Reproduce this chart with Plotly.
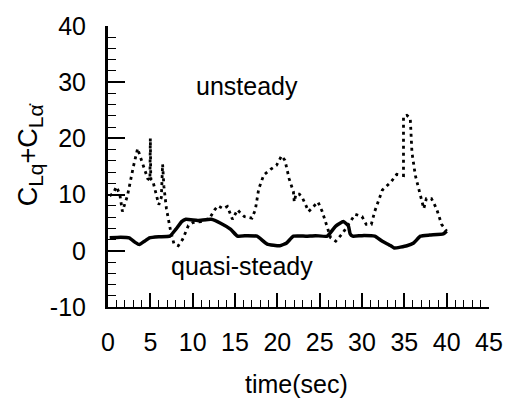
import plotly.graph_objects as go

unsteady_t = [0.2, 0.6, 1.0, 1.4, 1.7, 2.3, 3.0, 3.5, 3.8, 4.3, 4.7, 4.95, 5.0, 5.05, 5.3, 5.7, 6.0, 6.3, 6.45, 6.6, 6.9, 7.4, 7.8, 8.3, 8.8, 9.5, 10.0, 11.0, 12.0, 12.6, 13.0, 13.6, 14.1, 14.7, 15.3, 15.6, 16.1, 17.0, 17.4, 17.8, 18.4, 19.2, 19.9, 20.5, 20.9, 21.4, 21.9, 22.0, 22.2, 22.6, 23.0, 23.7, 24.8, 25.3, 25.9, 26.3, 26.9, 27.7, 28.4, 29.2, 30.0, 30.5, 31.1, 31.5, 32.4, 33.4, 34.1, 34.9, 34.9, 35.3, 35.7, 35.9, 36.3, 36.9, 37.3, 37.6, 38.2, 38.8, 39.4, 40.0]
unsteady_c = [9.8, 10.2, 11.4, 10.0, 7.0, 9.8, 15.0, 18.2, 16.8, 14.5, 12.8, 12.6, 20.0, 12.8, 12.4, 10.0, 8.2, 9.5, 15.4, 11.5, 7.5, 3.5, 1.2, 0.9, 2.0, 4.5, 5.0, 5.2, 5.8, 7.3, 8.0, 7.5, 7.9, 5.6, 7.3, 6.8, 6.1, 5.8, 7.3, 11.0, 13.5, 14.5, 15.2, 16.9, 16.1, 12.8, 10.5, 8.7, 10.1, 10.1, 9.3, 7.0, 8.7, 7.0, 4.4, 2.3, 1.7, 3.1, 4.7, 6.5, 6.1, 4.7, 4.7, 7.0, 10.8, 12.2, 13.6, 13.4, 23.9, 24.1, 23.6, 17.5, 13.4, 9.9, 7.5, 9.3, 9.3, 7.5, 4.7, 3.5]

quasi_t = [0.2, 1.5, 2.5, 3.2, 3.7, 4.3, 4.9, 6.0, 7.3, 8.0, 8.7, 9.2, 10.6, 12.2, 13.3, 14.5, 15.3, 16.5, 17.6, 18.8, 20.3, 21.1, 21.9, 23.4, 24.5, 25.9, 26.9, 27.8, 28.4, 28.6, 28.9, 30.0, 31.5, 32.4, 33.4, 33.8, 35.3, 36.1, 36.9, 38.0, 39.6, 40.0]
quasi_c = [2.3, 2.4, 2.3, 1.5, 1.1, 1.7, 2.3, 2.5, 2.6, 3.8, 5.2, 5.6, 5.4, 5.6, 4.9, 3.8, 2.6, 2.7, 2.6, 1.2, 0.9, 1.4, 2.6, 2.6, 2.7, 2.6, 4.4, 5.2, 4.4, 3.0, 2.6, 2.7, 2.6, 1.7, 0.9, 0.5, 0.9, 1.4, 2.6, 2.8, 3.0, 3.5]

x_ticks = [0, 5, 10, 15, 20, 25, 30, 35, 40, 45]
y_ticks = [-10, 0, 10, 20, 30, 40]

FONT = "Liberation Sans, Arial, sans-serif"
FS = 25

fig = go.Figure()
fig.add_trace(go.Scatter(x=unsteady_t, y=unsteady_c, mode="lines",
                         line=dict(color="black", width=2.8, dash="3px,4px"),
                         showlegend=False))
fig.add_trace(go.Scatter(x=quasi_t, y=quasi_c, mode="lines",
                         line=dict(color="black", width=3.5, shape="spline", smoothing=0.4),
                         showlegend=False))

ytitle = ("C<sub><span style='font-size:21px'>Lq</span></sub>"
          "+"
          "C<sub><span style='font-size:21px'>Lα̇</span></sub>")

fig.update_layout(
    width=515, height=407,
    margin=dict(l=108, r=18, t=21, b=100),
    plot_bgcolor="white", paper_bgcolor="white",
    font=dict(family=FONT, size=FS, color="black"),
    xaxis=dict(range=[0, 45], tickvals=x_ticks, ticktext=[str(v) for v in x_ticks],
               showgrid=False, zeroline=False, showline=True, linecolor="black", linewidth=2,
               ticks="inside", ticklen=14, tickwidth=1.5, tickcolor="black",
               minor=dict(dtick=1, ticks="inside", ticklen=7, tickwidth=1, tickcolor="black"),
               tickfont=dict(size=FS), ticklabelstandoff=12),
    yaxis=dict(range=[-10, 40], tickvals=y_ticks, ticktext=[str(v) for v in y_ticks],
               showgrid=False, zeroline=False, showline=True, linecolor="black", linewidth=3,
               ticks="inside", ticklen=17, tickwidth=1.5, tickcolor="black",
               minor=dict(dtick=2, ticks="inside", ticklen=8, tickwidth=1, tickcolor="black"),
               tickfont=dict(size=FS), ticklabelstandoff=14),
    annotations=[
        dict(text="unsteady", xref="paper", yref="paper", x=(250 - 108) / 389, y=(307 - 82) / 286,
             showarrow=False, font=dict(size=FS), xanchor="center", yanchor="middle"),
        dict(text="quasi-steady", xref="paper", yref="paper", x=(245 - 108) / 389, y=(307 - 265) / 286,
             showarrow=False, font=dict(size=FS), xanchor="center", yanchor="middle"),
        dict(text="time(sec)", xref="paper", yref="paper", x=(300 - 108) / 389, y=(307 - 385) / 286,
             showarrow=False, font=dict(size=FS), xanchor="center", yanchor="middle"),
        dict(text=ytitle, xref="paper", yref="paper",
             x=(28 - 108) / 389, y=(307 - 152) / 286, textangle=-90,
             showarrow=False, font=dict(size=27), xanchor="center", yanchor="middle"),
    ],
)

fig.write_html("out.html")
